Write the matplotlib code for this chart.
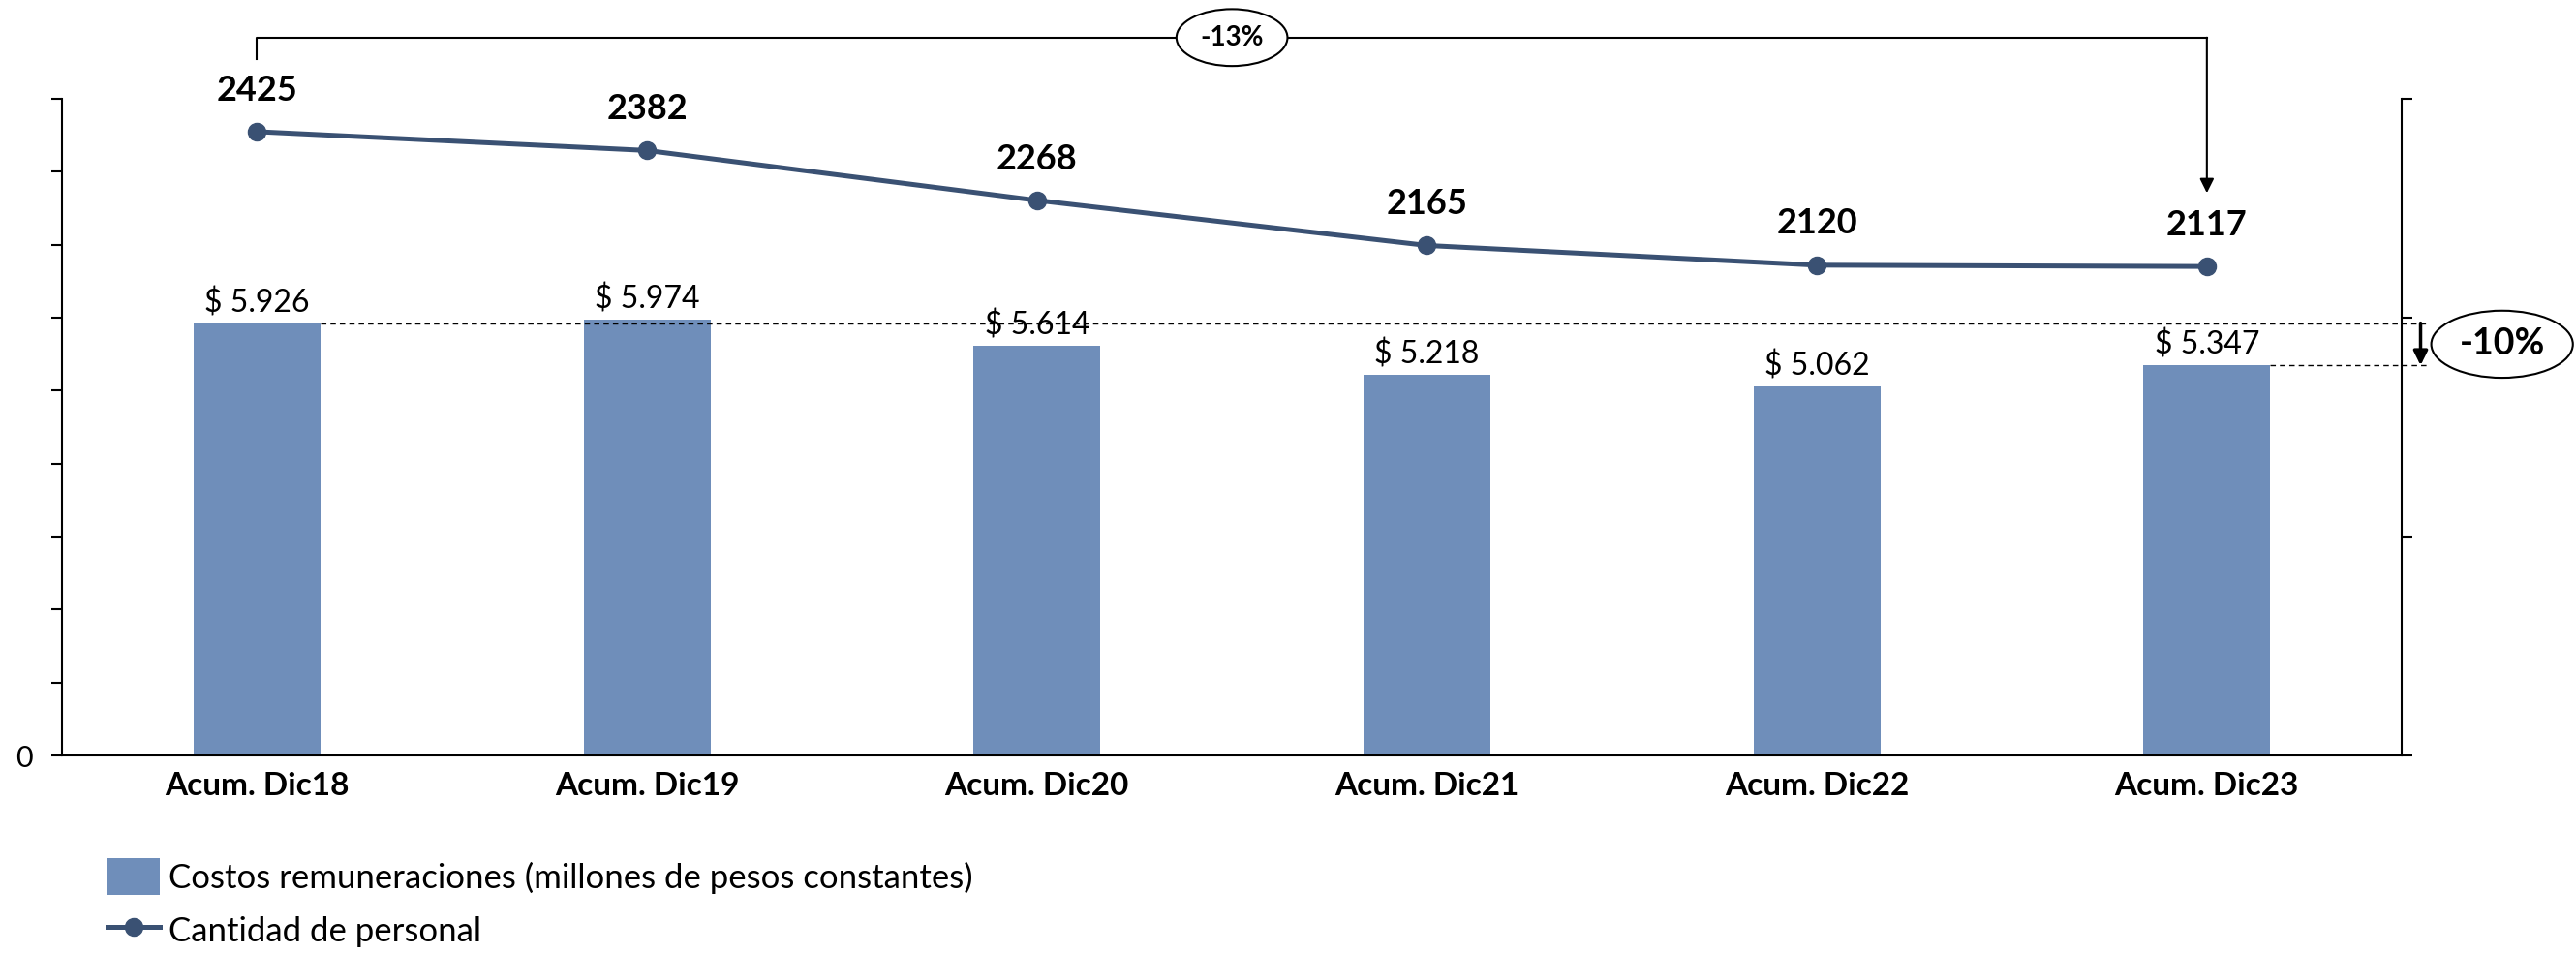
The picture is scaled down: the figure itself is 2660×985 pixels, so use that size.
import matplotlib.pyplot as plt
import numpy as np

plt.rcParams['font.family'] = ['Lato', 'DejaVu Sans']

# data
categories = ["Acum. Dic18", "Acum. Dic19", "Acum. Dic20", "Acum. Dic21", "Acum. Dic22", "Acum. Dic23"]
costos = [5926, 5974, 5614, 5218, 5062, 5347]
costos_labels = ["$ 5.926", "$ 5.974", "$ 5.614", "$ 5.218", "$ 5.062", "$ 5.347"]
personal = [2425, 2382, 2268, 2165, 2120, 2117]
var_personal = "-13%"
var_costos = "-10%"

bar_color = "#6F8EBA"
line_color = "#3A5173"

# figure dimensions
png_width = 2660
png_height = 985
png_dpi = 100

fig = plt.figure(figsize=(png_width / png_dpi, png_height / png_dpi), dpi=png_dpi)
ax = fig.add_axes([0.0241, 0.2081, 0.9083, 0.6883])
ax2 = ax.twinx()

x = np.arange(len(categories))
bw = 0.325

bars = ax.bar(x, costos, width=bw, color=bar_color, zorder=2,
              label="Costos remuneraciones (millones de pesos constantes)")
ax.set_xlim(-0.5, len(categories) - 0.5)
ax.set_ylim(0, 9000)
ax.set_yticks(np.arange(0, 9001, 1000))
ax.set_yticklabels(["0"] + [""] * 9)
ax.set_xticks(x)
ax.set_xticklabels(categories, fontweight='bold', fontsize=24)
ax.tick_params(axis='x', length=0, pad=12)
ax.tick_params(axis='y', length=8, width=1.5, labelsize=22, pad=14)
for s in ['top', 'right']:
    ax.spines[s].set_visible(False)
ax.spines['left'].set_linewidth(1.5)
ax.spines['bottom'].set_linewidth(1.5)

# bar labels
for xi, v, lab in zip(x, costos, costos_labels):
    ax.annotate(lab, (xi, v), xytext=(0, 4), textcoords='offset points',
                ha='center', va='bottom', fontsize=23)

# line on secondary axis
ax2.plot(x, personal, color=line_color, lw=3.6, marker='o', markersize=13,
         label="Cantidad de personal", zorder=3)
ax2.set_ylim(1000, 2500)
ax2.set_yticks([1000, 1500, 2000, 2500])
ax2.set_yticklabels([])
ax2.tick_params(axis='y', length=8, width=1.5)
for s in ['top', 'left', 'bottom']:
    ax2.spines[s].set_visible(False)
ax2.spines['right'].set_linewidth(1.5)

for xi, v in zip(x, personal):
    ax2.annotate(str(v), (xi, v), xytext=(0, 19), textcoords='offset points',
                 ha='center', va='bottom', fontsize=26, fontweight='bold')

# top bracket for personal variation
y_br = 2640
ax2.plot([x[0], x[0], x[-1]], [2590, y_br, y_br], color='black', lw=1.5,
         clip_on=False, zorder=4)
ax2.annotate("", xy=(x[-1], 2285), xytext=(x[-1], y_br),
             arrowprops=dict(arrowstyle='-|>', color='black', lw=1.5,
                             mutation_scale=22, shrinkA=0, shrinkB=0),
             annotation_clip=False)
ax2.text((x[0] + x[-1]) / 2, y_br, var_personal, ha='center', va='center',
         fontsize=20, fontweight='bold', zorder=5,
         bbox=dict(boxstyle='ellipse,pad=0.28', fc='white', ec='black', lw=1.5),
         clip_on=False)

# dashed reference lines for costs variation
x_end = 5.57
ax.plot([x[0] + bw / 2, x_end], [costos[0], costos[0]], color='black', lw=1,
        ls=(0, (4, 3)), clip_on=False, zorder=3)
ax.plot([x[-1] + bw / 2, x_end], [costos[-1], costos[-1]], color='black', lw=1,
        ls=(0, (4, 3)), clip_on=False, zorder=3)
ax.annotate("", xy=(5.548, costos[-1]), xytext=(5.548, costos[0]),
            arrowprops=dict(arrowstyle='-|>', color='black', lw=2.5,
                            mutation_scale=22, shrinkA=0, shrinkB=0),
            annotation_clip=False)
ax.text(5.757, (costos[0] + costos[-1]) / 2, var_costos, ha='center', va='center',
        fontsize=27, fontweight='bold',
        bbox=dict(boxstyle='ellipse,pad=0.2', fc='white', ec='black', lw=1.5),
        clip_on=False)

# legend
h1, l1 = ax.get_legend_handles_labels()
h2, l2 = ax2.get_legend_handles_labels()
fig.legend(h1 + h2, l1 + l2, loc='upper left', bbox_to_anchor=(0.03, 0.132),
           frameon=False, fontsize=25, handlelength=1.55, handleheight=1.3,
           handletextpad=0.25, labelspacing=0.5)

plt.savefig("out.png", dpi=png_dpi)
